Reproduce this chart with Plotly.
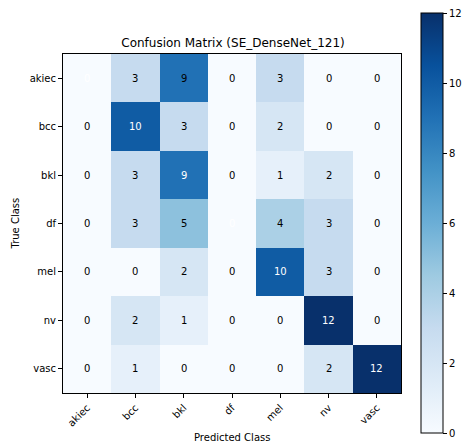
import plotly.graph_objects as go

# Class names and confusion counts (rows = true class, columns = predicted class)
classes = ["akiec", "bcc", "bkl", "df", "mel", "nv", "vasc"]
counts = [
    [0, 3, 9, 0, 3, 0, 0],
    [0, 10, 3, 0, 2, 0, 0],
    [0, 3, 9, 0, 1, 2, 0],
    [0, 3, 5, 0, 4, 3, 0],
    [0, 0, 2, 0, 10, 3, 0],
    [0, 2, 1, 0, 0, 12, 0],
    [0, 1, 0, 0, 0, 2, 12],
]
cbar_ticks = [0, 2, 4, 6, 8, 10, 12]

# Matplotlib "Blues" sequential colormap
blues = ["#f7fbff", "#deebf7", "#c6dbef", "#9ecae1", "#6baed6",
         "#4292c6", "#2171b5", "#08519c", "#08306b"]
colorscale = [[i / (len(blues) - 1), c] for i, c in enumerate(blues)]

FONT = "DejaVu Sans"
W, H = 475, 443
ml, mr, mt, mb = 63, 72, 54, 50
plot_h = H - mt - mb

fig = go.Figure(
    go.Heatmap(
        z=counts,
        x=classes,
        y=classes,
        colorscale=colorscale,
        zmin=0,
        zmax=12,
        xgap=0,
        ygap=0,
        showscale=True,
        colorbar=dict(
            thickness=22,
            lenmode="pixels",
            len=420,
            yanchor="top",
            y=(H - mb - 13) / plot_h,
            xanchor="left",
            x=(423 - ml) / (W - ml - mr),
            xpad=0,
            ypad=0,
            outlinecolor="black",
            outlinewidth=1,
            tickvals=cbar_ticks,
            ticks="outside",
            ticklen=4,
            tickcolor="black",
            tickfont=dict(family=FONT, size=10, color="black"),
        ),
    )
)

# Cell counts: white on the diagonal, black elsewhere
annotations = []
for i, row_name in enumerate(classes):
    for j, col_name in enumerate(classes):
        annotations.append(
            dict(
                x=col_name,
                y=row_name,
                text=str(counts[i][j]),
                showarrow=False,
                font=dict(family=FONT, size=10,
                          color="white" if i == j else "black"),
            )
        )

annotations.append(dict(
    text="Predicted Class", xref="paper", yref="paper", x=0.5, y=0,
    yshift=-44, showarrow=False, yanchor="middle",
    font=dict(family=FONT, size=10, color="black"),
))
annotations.append(dict(
    text="True Class", xref="paper", yref="paper", x=0, y=0.5,
    xshift=-48, showarrow=False, textangle=-90, xanchor="center",
    font=dict(family=FONT, size=10, color="black"),
))

fig.update_layout(
    width=W,
    height=H,
    margin=dict(l=ml, r=mr, t=mt, b=mb),
    paper_bgcolor="white",
    plot_bgcolor="white",
    title=dict(
        text="Confusion Matrix (SE_DenseNet_121)",
        x=(ml + (W - ml - mr) / 2) / W,
        xanchor="center",
        y=1 - 43 / H,
        yanchor="middle",
        font=dict(family=FONT, size=12, color="black"),
    ),
    annotations=annotations,
    xaxis=dict(
        tickangle=-45,
        ticks="outside",
        ticklen=4,
        tickcolor="black",
        showline=True,
        linecolor="black",
        linewidth=1,
        mirror=True,
        showgrid=False,
        zeroline=False,
        tickfont=dict(family=FONT, size=10, color="black"),
    ),
    yaxis=dict(
        autorange="reversed",
        ticks="outside",
        ticklen=4,
        tickcolor="black",
        showline=True,
        linecolor="black",
        linewidth=1,
        mirror=True,
        showgrid=False,
        zeroline=False,
        tickfont=dict(family=FONT, size=10, color="black"),
    ),
)

fig.write_html("out.html")
